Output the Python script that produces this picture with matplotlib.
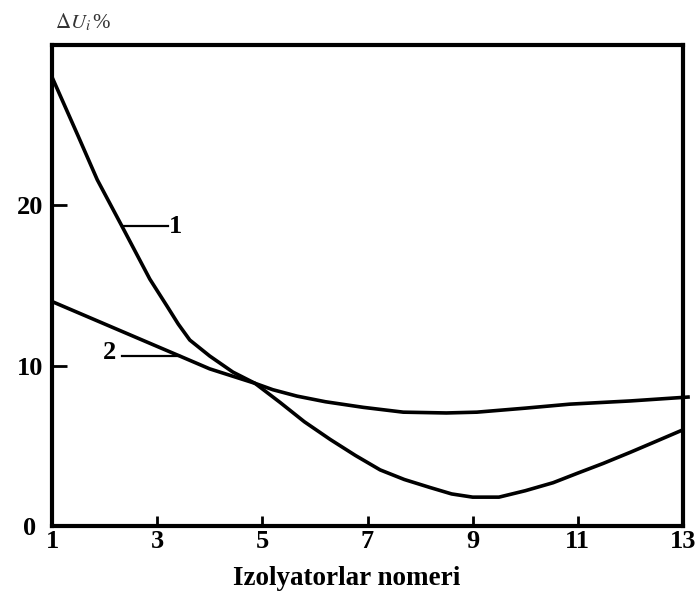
import matplotlib
matplotlib.use("Agg")
import matplotlib.pyplot as plt
import matplotlib.transforms as mtransforms

# Data
x1 = [1.0, 1.5, 1.86, 2.33, 2.86, 3.19, 3.4, 3.62, 4.0, 4.44, 4.86, 5.34, 5.8,
      6.29, 6.77, 7.24, 7.7, 8.19, 8.6, 9.0, 9.5, 10.0, 10.53, 11.0, 11.48, 12.0,
      12.43, 13.0]
y1 = [28.0, 24.3, 21.6, 18.7, 15.4, 13.7, 12.6, 11.6, 10.6, 9.6, 8.9, 7.7, 6.5,
      5.4, 4.4, 3.5, 2.9, 2.4, 2.0, 1.8, 1.8, 2.2, 2.7, 3.3, 3.9, 4.6,
      5.2, 6.0]

x2 = [1.0, 2.0, 3.0, 3.43, 4.0, 4.86, 5.2, 5.66, 6.2, 6.92, 7.68, 8.5, 9.08,
      10.0, 10.85, 12.0, 13.13]
y2 = [14.0, 12.6, 11.2, 10.6, 9.8, 8.9, 8.5, 8.1, 7.75, 7.4, 7.1, 7.05, 7.1,
      7.35, 7.6, 7.8, 8.05]

xticks = [1, 3, 5, 7, 9, 11, 13]
yticks = [0, 10, 20]
xlabel = "Izolyatorlar nomeri"
curve_labels = ["1", "2"]

plt.rcParams['mathtext.fontset'] = 'stix'
serif = ['Liberation Serif', 'DejaVu Serif']

fig = plt.figure(figsize=(6.97, 5.93), dpi=100)
ax = fig.add_axes([52/697, 1 - 526/593, (683 - 52)/697, (526 - 45)/593])

ax.plot(x1, y1, color='black', lw=2.6, solid_capstyle='butt', solid_joinstyle='round', clip_on=False)
ax.plot(x2, y2, color='black', lw=2.6, solid_capstyle='butt', solid_joinstyle='round', clip_on=False)

ax.set_xlim(1, 13)
ax.set_ylim(0, 30)

for s in ax.spines.values():
    s.set_linewidth(3)
    s.set_color('black')

ax.set_xticks(xticks)
ax.set_xticklabels([str(v) for v in xticks], family=serif, fontweight='bold', fontsize=19)
ax.set_yticks(yticks)
ax.set_yticklabels([str(v) for v in yticks], family=serif, fontweight='bold', fontsize=19)
ax.tick_params(axis='x', direction='in', length=7, width=2, pad=3)
ax.tick_params(axis='y', direction='in', length=11, width=2, pad=6)
for t in ax.xaxis.get_major_ticks():
    if t.get_loc() in (1, 13):
        t.tick1line.set_visible(False)
for t in ax.yaxis.get_major_ticks():
    if t.get_loc() == 0:
        t.tick1line.set_visible(False)
        t.label1.set_transform(t.label1.get_transform() +
                               mtransforms.ScaledTranslation(-8/100, 0, fig.dpi_scale_trans))

ax.set_xlabel(xlabel, family=serif, fontweight='bold', fontsize=19.5)
ax.xaxis.set_label_coords((347 - 52)/631, (526 - 585)/481)
ax.xaxis.label.set_va('baseline')

# curve labels with leader lines
ax.plot([2.33, 3.2], [18.7, 18.7], color='black', lw=1.6)
ax.text(3.35, 18.7, curve_labels[0], family=serif, fontweight='bold', fontsize=19,
        ha='center', va='center')
ax.plot([2.33, 3.43], [10.6, 10.6], color='black', lw=1.6)
ax.text(2.10, 10.8, curve_labels[1], family=serif, fontweight='bold', fontsize=19,
        ha='center', va='center')

fig.text(55/697, 1 - 22/593, r'$\Delta U_i\,$%', fontsize=15, color='#333333',
         family=serif, ha='left', va='center')

fig.savefig("out.png", dpi=100)
